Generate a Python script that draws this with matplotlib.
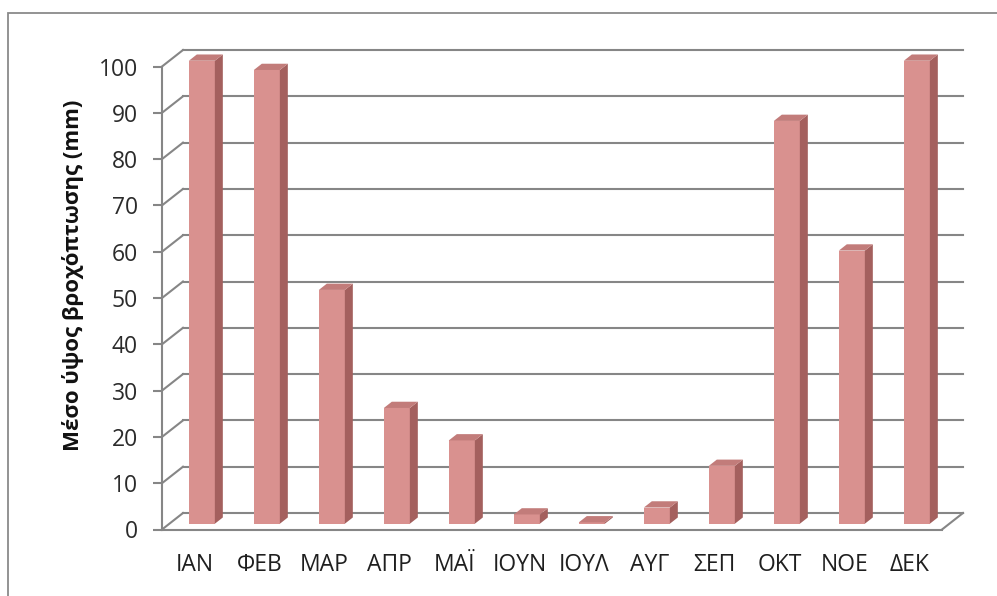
import matplotlib
matplotlib.use('Agg')
import matplotlib.pyplot as plt
from matplotlib.patches import Polygon, Rectangle

plt.rcParams['font.family'] = ['Open Sans', 'DejaVu Sans']

# monthly mean rainfall (mm)
months = ['ΙΑΝ', 'ΦΕΒ', 'ΜΑΡ', 'ΑΠΡ', 'ΜΑΪ', 'ΙΟΥΝ', 'ΙΟΥΛ', 'ΑΥΓ', 'ΣΕΠ', 'ΟΚΤ', 'ΝΟΕ', 'ΔΕΚ']
rain = [100, 98, 50.5, 25, 18, 2, 0.3, 3.5, 12.5, 87, 59, 100]
yticks = list(range(0, 101, 10))
ylabel = 'Μέσο ύψος βροχόπτωσης (mm)'

# fake 3d look
dx, dy = 0.323, 3.56          # floor depth in data units
bar_pos = 0.35                # where the front face sits in the depth
bar_depth = 0.38              # bar depth as a share of floor depth
bar_w = 0.4
grid_c = '#868686'
front_c, side_c, top_c = '#d9918f', '#a4605e', '#c27c7a'

fig = plt.figure(figsize=(9.97, 5.96), dpi=100)
ax = fig.add_axes([162 / 997, 66.5 / 596, 780 / 997, 463 / 596])
ax.set_xlim(0, 12)
ax.set_ylim(0, 100)

# outer frame of the chart area
fig.patches.append(Rectangle((8 / 997, -0.1), 1.2, 1 - 13 / 596 + 0.1,
                             transform=fig.transFigure, fill=False,
                             edgecolor='#8a8a8a', lw=1.3))

# back wall gridlines and the little diagonals
for v in yticks:
    ax.plot([dx, 12 + dx], [v + dy, v + dy], color=grid_c, lw=1.5,
            clip_on=False, zorder=1)
    ax.plot([0, dx], [v, v + dy], color=grid_c, lw=1.5, clip_on=False, zorder=1)
# right edge of the floor
ax.plot([12, 12 + dx], [0, dy], color=grid_c, lw=1.5, clip_on=False, zorder=1)

# bars
xs = [i + 0.5 + bar_pos * dx for i in range(len(months))]
b0 = bar_pos * dy
bdx, bdy = bar_depth * dx, bar_depth * dy
ax.bar(xs, rain, width=bar_w, bottom=b0, color=front_c, zorder=3, clip_on=False)
for x, h in zip(xs, rain):
    xl, xr = x - bar_w / 2, x + bar_w / 2
    top = b0 + h
    ax.add_patch(Polygon([(xr, b0), (xr + bdx, b0 + bdy), (xr + bdx, top + bdy), (xr, top)],
                         closed=True, facecolor=side_c, edgecolor='none', zorder=3,
                         clip_on=False))
    ax.add_patch(Polygon([(xl, top), (xl + bdx, top + bdy), (xr + bdx, top + bdy), (xr, top)],
                         closed=True, facecolor=top_c, edgecolor='none', zorder=3,
                         clip_on=False))

for s in ['top', 'right']:
    ax.spines[s].set_visible(False)
for s in ['left', 'bottom']:
    ax.spines[s].set_color(grid_c)
    ax.spines[s].set_linewidth(1.5)
ax.patch.set_visible(False)

ax.set_yticks(yticks)
ax.tick_params(axis='y', length=6.5, width=1.5, color=grid_c, pad=11,
               labelsize=16.5, labelcolor='#2b2b2b')
ax.set_xticks([i + 0.5 for i in range(len(months))])
ax.set_xticklabels(months)
ax.tick_params(axis='x', length=0, pad=17, labelsize=16.5, labelcolor='#1f1f1f')

fig.text(73 / 997, 1 - 275 / 596, ylabel, rotation=90, ha='center', va='center',
         fontsize=16, fontweight='bold', color='#111111')

fig.savefig('out.png', dpi=100)
